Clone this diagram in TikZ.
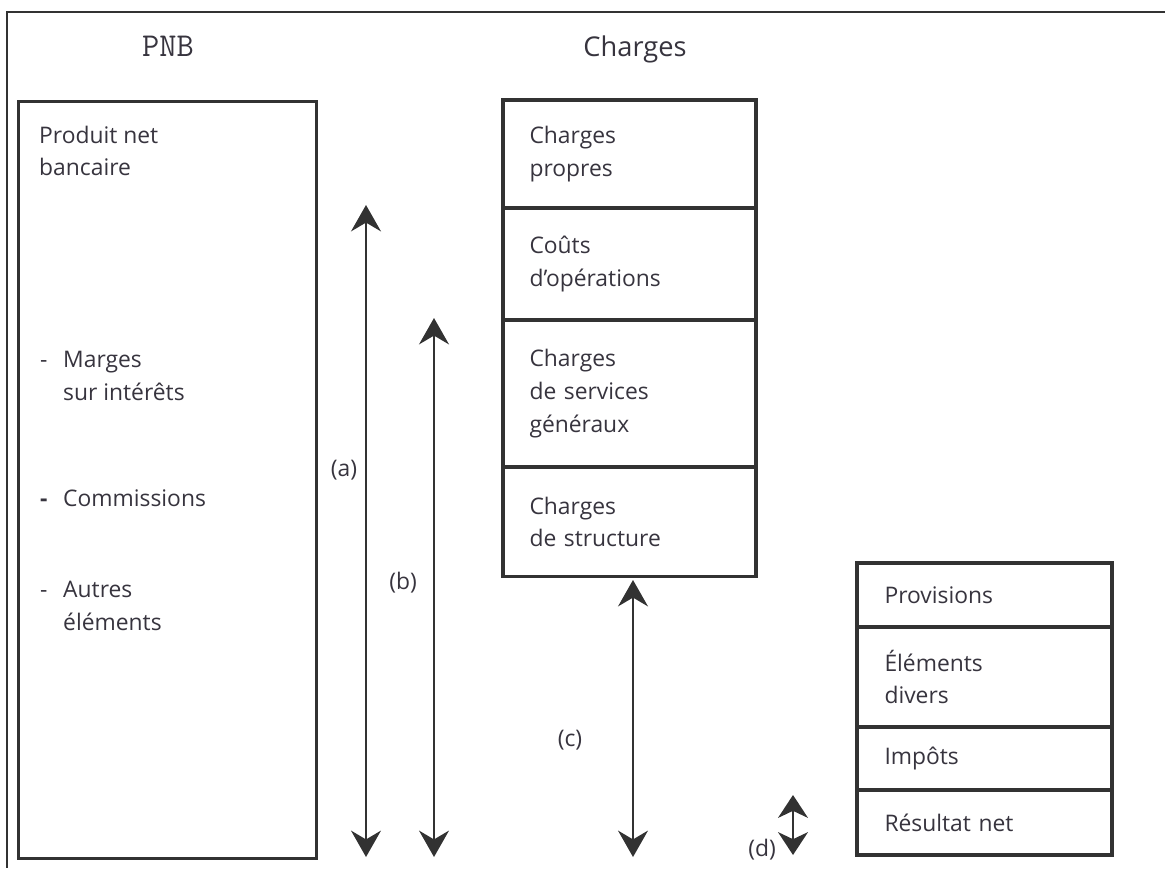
\documentclass[tikz,border=0pt]{standalone}
\usepackage{fontspec}
\setmainfont{Open Sans}
\usepackage{tikz}
\usetikzlibrary{arrows.meta,positioning}

\definecolor{ink}{RGB}{55,52,62}
\definecolor{rule}{RGB}{50,50,50}

\tikzset{
  seg/.style={draw=rule, line width=1.8pt, outer sep=0pt, minimum width=5.06cm,
    text width=4cm, inner xsep=0.53cm, align=left, text=ink,
    font=\fontsize{13}{18.7}\selectfont},
  txt/.style={anchor=west, align=left, text=ink, font=\fontsize{13}{18.7}\selectfont},
  dim/.style={draw=rule, line width=1.4pt,
    {Stealth[length=15pt,width=17pt,inset=5pt]}-{Stealth[length=15pt,width=17pt,inset=5pt]}}
}

\begin{document}
\begin{tikzpicture}[x=0.02cm, y=-0.02cm]
    \useasboundingbox (0,0) rectangle (1165,868);
    % Frame
    \draw [rule, line width=1pt] (1165,12) -- (7,12) -- (7,868);
    % Headers
    \node [text=ink, font=\ttfamily\fontsize{19}{22}\selectfont] (hpnb) at (168,46) {PNB};
    \node [text=ink, font=\fontsize{15.5}{18}\selectfont] (hchg) at (635,49) {Charges};
    % PNB box
    \node [draw=rule, line width=1.6pt, anchor=north west, minimum width=5.96cm,
           minimum height=15.14cm] (pnb) at (17,100) {};
    \node [txt] (pnbtxt) at (33,151) {Produit net\\bancaire};
    \node [txt] (dash1) at (34,364) {-};
    \node [txt] (marges) at (57,376) {Marges\\sur intérêts};
    \node [txt] (dash2) at (34,503) {\textbf{-}};
    \node [txt] (comm) at (57,498) {Commissions};
    \node [txt] (dash3) at (34,594) {-};
    \node [txt] (autres) at (57,606) {Autres\\éléments};
    % Charges
    \node [seg, anchor=north west, minimum height=2.16cm] (propres) at (503,100) {Charges\\propres};
    \node [seg, below=0pt of propres, minimum height=2.24cm] (couts) {Coûts\\d'opérations};
    \node [seg, below=0pt of couts, minimum height=2.94cm] (servg) {Charges\\de services\\généraux};
    \node [seg, below=0pt of servg, minimum height=2.2cm] (struct) {Charges\\de structure};
    % Results
    \node [seg, anchor=north west, minimum width=5.1cm, minimum height=1.28cm] (prov) at (857,563) {Provisions};
    \node [seg, below=0pt of prov, minimum width=5.1cm, minimum height=2.0cm] (divers) {Éléments\\divers};
    \node [seg, below=0pt of divers, minimum width=5.1cm, minimum height=1.26cm] (impots) {Impôts};
    \node [seg, below=0pt of impots, minimum width=5.1cm, minimum height=1.3cm] (resnet) {Résultat net};
    % Margins
    \coordinate (atop) at (366,205); \coordinate (abot) at (366,857);
    \coordinate (btop) at (434,318); \coordinate (bbot) at (434,857);
    \coordinate (ctop) at (633,580); \coordinate (cbot) at (633,857);
    \coordinate (dtop) at (793,795); \coordinate (dbot) at (793,855);
    \draw [dim] (atop) -- (abot);
    \draw [dim] (btop) -- (bbot);
    \draw [dim] (ctop) -- (cbot);
    \draw [draw=rule, line width=1.4pt, {Stealth[length=13pt,width=17pt,inset=4pt]}-{Stealth[length=13pt,width=17pt,inset=4pt]}] (dtop) -- (dbot);
    \node [text=ink, font=\fontsize{13}{16}\selectfont] (la) at (344,470) {(a)};
    \node [text=ink, font=\fontsize{13}{16}\selectfont] (lb) at (403,583) {(b)};
    \node [text=ink, font=\fontsize{13}{16}\selectfont] (lc) at (570,740) {(c)};
    \node [text=ink, font=\fontsize{13}{16}\selectfont] (ld) at (762,850) {(d)};
\end{tikzpicture}
\end{document}
